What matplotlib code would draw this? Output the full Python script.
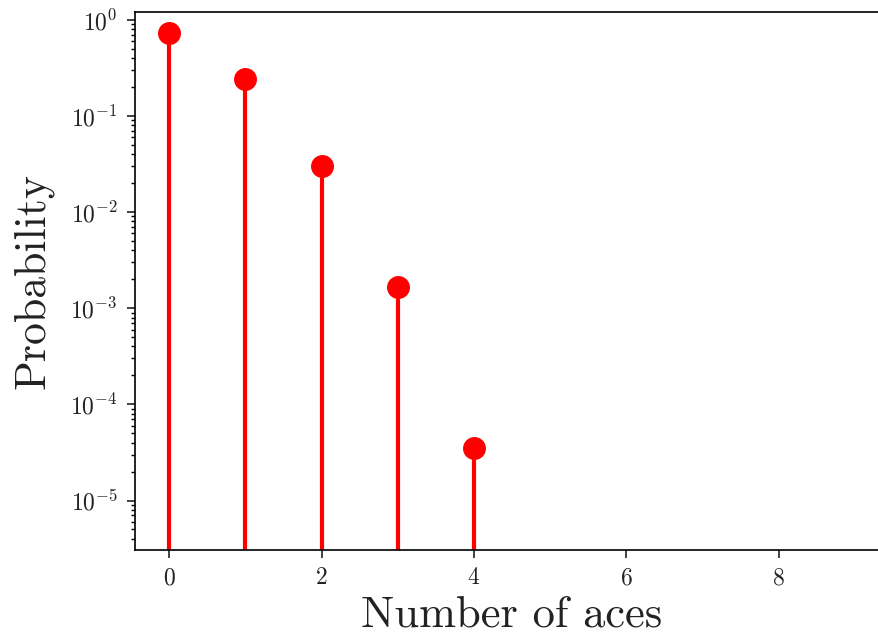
import numpy as np
import matplotlib
matplotlib.use("Agg")
import matplotlib.pyplot as plt

plt.rcParams['font.family'] = 'serif'
plt.rcParams['font.serif'] = ['cmr10']
plt.rcParams['mathtext.fontset'] = 'cm'
plt.rcParams['axes.formatter.use_mathtext'] = True

aces = np.array([0, 1, 2, 3, 4])
prob = np.array([0.726, 0.242, 0.0303, 0.00168, 3.5e-5])

fig = plt.figure(figsize=(8.79, 6.38), dpi=100)
ax = fig.add_axes([0.1536, 0.138, 0.858, 0.843])

ybot = 3.06e-6
ax.vlines(aces, ybot, prob, color='red', linewidth=3, zorder=2)
ax.plot(aces, prob, 'o', color='red', markersize=15.5, zorder=3)

ax.set_yscale('log')
ax.set_ylim(ybot, 1.2)
ax.set_xlim(-0.45, 9.45)
ax.set_xticks([0, 2, 4, 6, 8])

for s in ax.spines.values():
    s.set_linewidth(1.2)
ax.tick_params(labelsize=17, width=1.2, length=5.5, pad=7, colors='#222222')
ax.tick_params(which='minor', width=1.0, length=3)

ax.set_xlabel("Number of aces", fontsize=32, labelpad=4, color='#222222')
ax.set_ylabel("Probability", fontsize=31.5, labelpad=12, color='#222222')

fig.savefig("out.png", dpi=100)
